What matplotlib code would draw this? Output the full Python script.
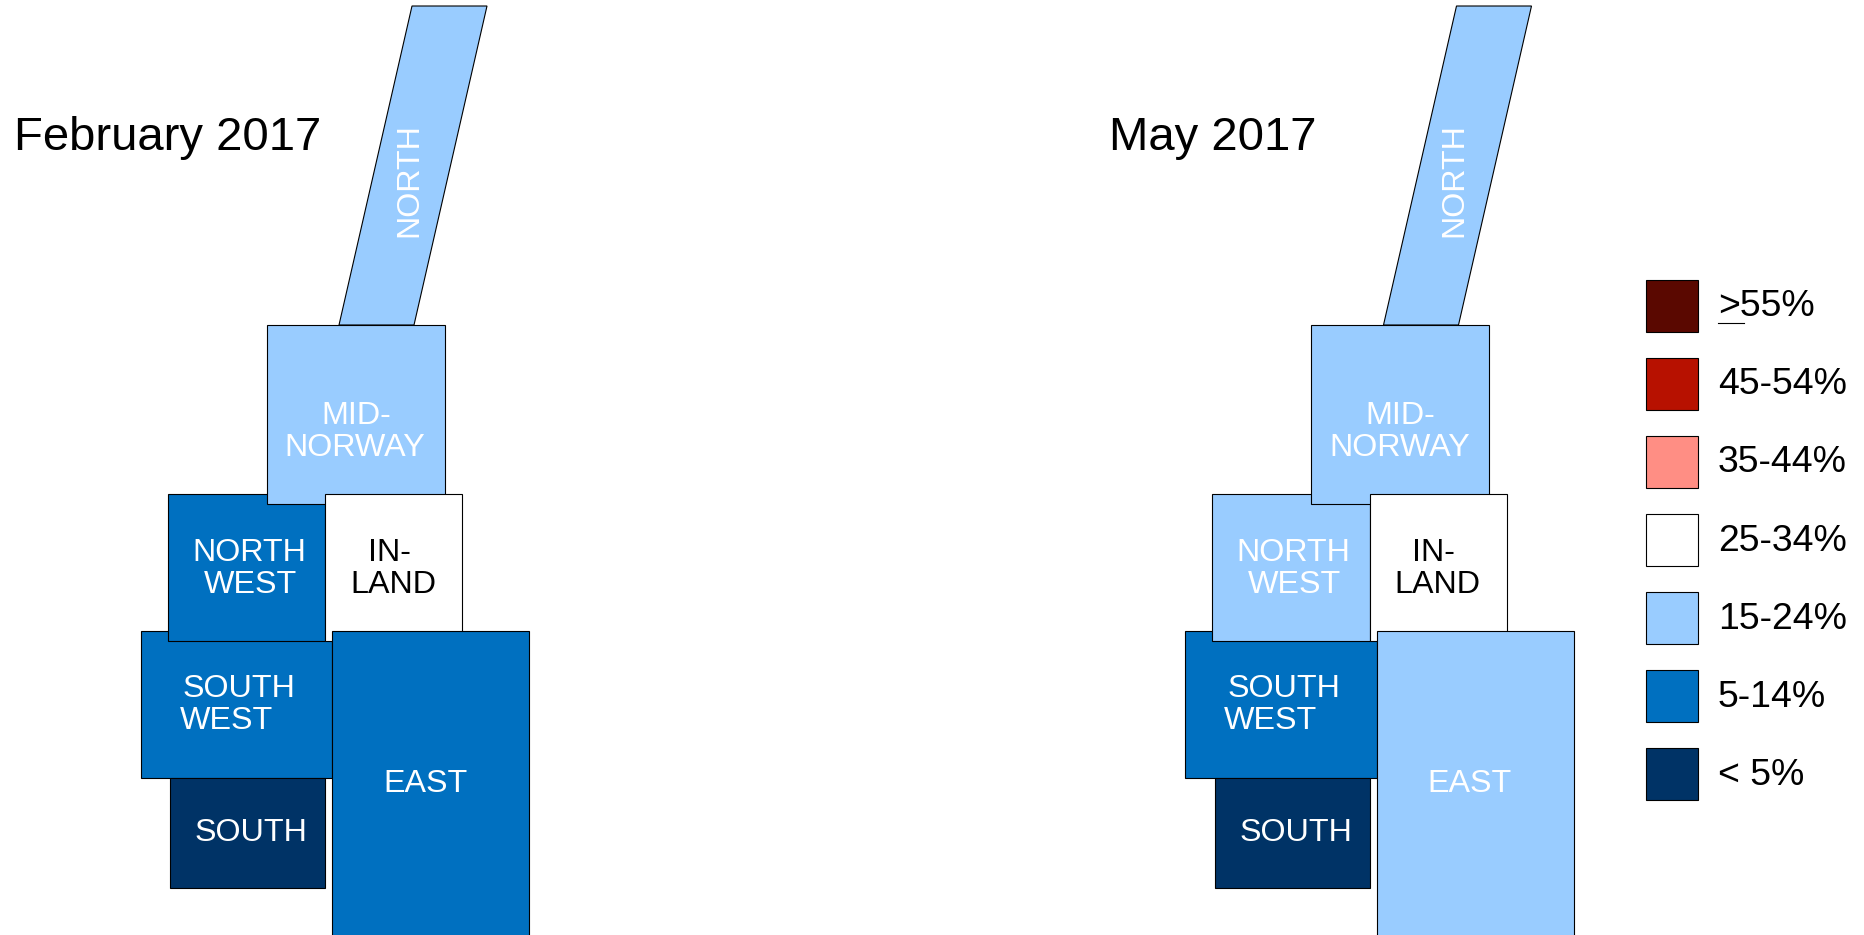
import matplotlib
matplotlib.use("Agg")
import matplotlib.pyplot as plt
from matplotlib.patches import Polygon, Rectangle

plt.rcParams['font.family'] = ['Liberation Sans', 'DejaVu Sans']

# Data: category per region
regions = ["SOUTH WEST", "SOUTH", "NORTH", "NORTH WEST", "MID-NORWAY", "INLAND", "EAST"]
feb_2017 = ["5-14%", "< 5%", "15-24%", "5-14%", "15-24%", "25-34%", "5-14%"]
may_2017 = ["5-14%", "< 5%", "15-24%", "15-24%", "15-24%", "25-34%", "15-24%"]
legend_labels = [">55%", "45-54%", "35-44%", "25-34%", "15-24%", "5-14%", "< 5%"]
legend_colors = ["#5A0800", "#B71100", "#FF8E84", "#FFFFFF", "#99CCFF", "#0070C0", "#003366"]
panel_titles = ["February 2017", "May 2017"]

# Layout of the tile map, in pixels, drawn in this stacking order
shapes = {
    "NORTH": [(339, 325), (414, 325), (487, 6), (412, 6)],
    "MID-NORWAY": [(266.5, 325), (444.5, 325), (444.5, 504), (266.5, 504)],
    "NORTH WEST": [(167.5, 494), (325, 494), (325, 641), (167.5, 641)],
    "SOUTH WEST": [(140.5, 631), (332, 631), (332, 778), (140.5, 778)],
    "SOUTH": [(170, 778), (325, 778), (325, 888), (170, 888)],
    "INLAND": [(325, 494), (462, 494), (462, 641), (325, 641)],
    "EAST": [(332, 631), (529, 631), (529, 936), (332, 936)],
}
draw_order = ["NORTH", "SOUTH WEST", "SOUTH", "NORTH WEST", "MID-NORWAY", "INLAND", "EAST"]

# (text, centre x, baseline y)
label_lines = {
    "MID-NORWAY": [("MID-", 356, 424), ("NORWAY", 355, 456)],
    "NORTH WEST": [("NORTH", 249, 561), ("WEST", 250, 593)],
    "INLAND": [("IN-", 389, 561), ("LAND", 393, 593)],
    "SOUTH WEST": [("SOUTH", 239, 697), ("WEST", 226, 729)],
    "SOUTH": [("SOUTH", 251, 841)],
    "EAST": [("EAST", 425, 792)],
}
north_label = (424.5, 180)
panel_dx = [0, 1044.5]
title_pos = [(14, 150), (1109, 150)]

color_of = dict(zip(legend_labels, legend_colors))
MAP_FS = 23.2

fig = plt.figure(figsize=(18.65, 9.35), dpi=100)
ax = fig.add_axes([0, 0, 1, 1])
ax.set_xlim(0, 1865)
ax.set_ylim(935, 0)
ax.axis("off")

for dx, values, title, tpos in zip(panel_dx, [feb_2017, may_2017], panel_titles, title_pos):
    cats = dict(zip(regions, values))
    for z, region in enumerate(draw_order):
        pts = [(x + dx, y) for x, y in shapes[region]]
        ax.add_patch(Polygon(pts, closed=True, facecolor=color_of[cats[region]],
                             edgecolor="black", linewidth=0.8, zorder=2 + z))
        tcolor = "black" if cats[region] == "25-34%" else "white"
        for text, cx, by in label_lines.get(region, []):
            ax.text(cx + dx, by, text, color=tcolor, fontsize=MAP_FS, ha="center",
                    va="baseline", zorder=20)
    ax.text(north_label[0] + dx, north_label[1], "NORTH", color="white", fontsize=MAP_FS,
            rotation=90, ha="right", va="center", rotation_mode="default", zorder=20)
    ax.text(tpos[0], tpos[1], title, color="black", fontsize=34, ha="left", va="baseline", zorder=20)

# Legend
box_x, box_w, box_h = 1645.5, 52, 52
box_tops = [279.5, 357.5, 435.5, 513.5, 591.5, 670, 748]
text_base = [316, 394, 472, 551, 629, 707, 785]
for label, col, top, base in zip(legend_labels, legend_colors, box_tops, text_base):
    ax.add_patch(Rectangle((box_x, top), box_w, box_h, facecolor=col, edgecolor="black",
                           linewidth=0.8, zorder=3))
    ax.text(1718, base, label, color="black", fontsize=26.9, ha="left", va="baseline", zorder=20)
ax.plot([1718, 1744], [323, 323], color="black", linewidth=0.8, zorder=20)

fig.savefig("out.png", dpi=100, facecolor="white")
